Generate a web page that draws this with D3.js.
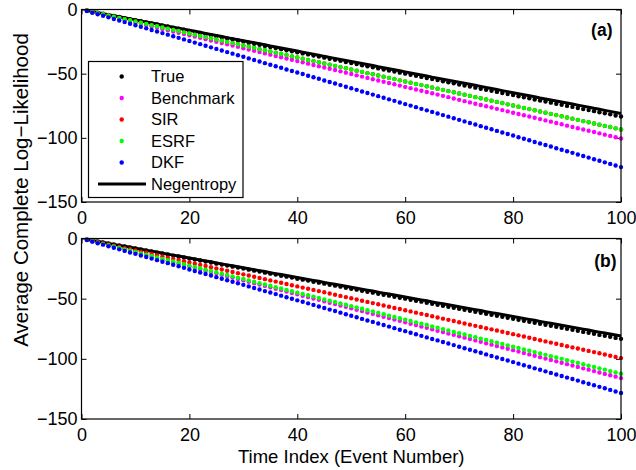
<!DOCTYPE html>
<html><head><meta charset="utf-8">
<script src="https://cdn.jsdelivr.net/npm/d3@7"></script>
<style>
html,body{margin:0;padding:0;background:#fff;}
svg{display:block;}
text{font-family:"Liberation Sans",Arial,Helvetica,sans-serif;fill:#000;}
</style></head>
<body>
<svg id="chart" width="636" height="470"></svg>
<script>
// ---------- data ----------
const timeIndex = d3.range(1, 101);
const xTicks = [0, 20, 40, 60, 80, 100];
const yTicks = [0, -50, -100, -150];
const seriesNames = ["True", "Benchmark", "SIR", "ESRF", "DKF"];
const seriesColors = ["#000000", "#ff00ff", "#ff0000", "#00ff00", "#0000ff"];
const panelLabels = ["(a)", "(b)"];

const negentropy = [-0.8,-1.6,-2.4,-3.2,-4.1,-4.9,-5.7,-6.5,-7.3,-8.1,-8.9,-9.7,-10.5,-11.3,-12.2,-13.0,-13.8,-14.6,-15.4,-16.2,-17.0,-17.8,-18.6,-19.4,-20.3,-21.1,-21.9,-22.7,-23.5,-24.3,-25.1,-25.9,-26.7,-27.5,-28.4,-29.2,-30.0,-30.8,-31.6,-32.4,-33.2,-34.0,-34.8,-35.6,-36.5,-37.3,-38.1,-38.9,-39.7,-40.5,-41.3,-42.1,-42.9,-43.7,-44.6,-45.4,-46.2,-47.0,-47.8,-48.6,-49.4,-50.2,-51.0,-51.8,-52.7,-53.5,-54.3,-55.1,-55.9,-56.7,-57.5,-58.3,-59.1,-59.9,-60.8,-61.6,-62.4,-63.2,-64.0,-64.8,-65.6,-66.4,-67.2,-68.0,-68.9,-69.7,-70.5,-71.3,-72.1,-72.9,-73.7,-74.5,-75.3,-76.1,-77.0,-77.8,-78.6,-79.4,-80.2,-81.0];

const trueLL = [-0.8,-1.7,-2.5,-3.3,-4.2,-5.0,-5.8,-6.7,-7.5,-8.3,-9.2,-10.0,-10.8,-11.7,-12.5,-13.3,-14.2,-15.0,-15.8,-16.7,-17.5,-18.3,-19.2,-20.0,-20.9,-21.7,-22.5,-23.4,-24.2,-25.0,-25.9,-26.7,-27.5,-28.4,-29.2,-30.0,-30.9,-31.7,-32.5,-33.4,-34.2,-35.0,-35.9,-36.7,-37.5,-38.4,-39.2,-40.0,-40.9,-41.7,-42.5,-43.4,-44.2,-45.0,-45.9,-46.7,-47.5,-48.4,-49.2,-50.0,-50.9,-51.7,-52.5,-53.4,-54.2,-55.0,-55.9,-56.7,-57.5,-58.4,-59.2,-60.0,-60.9,-61.7,-62.6,-63.4,-64.2,-65.1,-65.9,-66.7,-67.6,-68.4,-69.2,-70.1,-70.9,-71.7,-72.6,-73.4,-74.2,-75.1,-75.9,-76.7,-77.6,-78.4,-79.2,-80.1,-80.9,-81.7,-82.6,-83.4];

// panel (a)
const aBenchmark = [-1.0,-2.0,-3.0,-4.0,-5.0,-6.0,-7.0,-8.0,-9.0,-10.1,-11.1,-12.1,-13.1,-14.1,-15.1,-16.1,-17.1,-18.1,-19.1,-20.1,-21.1,-22.1,-23.1,-24.1,-25.1,-26.1,-27.1,-28.1,-29.1,-30.2,-31.2,-32.2,-33.2,-34.2,-35.2,-36.2,-37.2,-38.2,-39.2,-40.2,-41.2,-42.2,-43.2,-44.2,-45.2,-46.2,-47.2,-48.2,-49.2,-50.3,-51.3,-52.3,-53.3,-54.3,-55.3,-56.3,-57.3,-58.3,-59.3,-60.3,-61.3,-62.3,-63.3,-64.3,-65.3,-66.3,-67.3,-68.3,-69.3,-70.4,-71.4,-72.4,-73.4,-74.4,-75.4,-76.4,-77.4,-78.4,-79.4,-80.4,-81.4,-82.4,-83.4,-84.4,-85.4,-86.4,-87.4,-88.4,-89.4,-90.5,-91.5,-92.5,-93.5,-94.5,-95.5,-96.5,-97.5,-98.5,-99.5,-100.5];
const aSIR = [-0.9,-1.9,-2.8,-3.7,-4.7,-5.6,-6.5,-7.5,-8.4,-9.4,-10.3,-11.2,-12.2,-13.1,-14.0,-15.0,-15.9,-16.8,-17.8,-18.7,-19.6,-20.6,-21.5,-22.4,-23.4,-24.3,-25.2,-26.2,-27.1,-28.1,-29.0,-29.9,-30.9,-31.8,-32.7,-33.7,-34.6,-35.5,-36.5,-37.4,-38.3,-39.3,-40.2,-41.1,-42.1,-43.0,-43.9,-44.9,-45.8,-46.8,-47.7,-48.6,-49.6,-50.5,-51.4,-52.4,-53.3,-54.2,-55.2,-56.1,-57.0,-58.0,-58.9,-59.8,-60.8,-61.7,-62.6,-63.6,-64.5,-65.5,-66.4,-67.3,-68.3,-69.2,-70.1,-71.1,-72.0,-72.9,-73.9,-74.8,-75.7,-76.7,-77.6,-78.5,-79.5,-80.4,-81.3,-82.3,-83.2,-84.2,-85.1,-86.0,-87.0,-87.9,-88.8,-89.8,-90.7,-91.6,-92.6,-93.5];
const aESRF = [-0.9,-1.9,-2.8,-3.7,-4.7,-5.6,-6.5,-7.5,-8.4,-9.4,-10.3,-11.2,-12.2,-13.1,-14.0,-15.0,-15.9,-16.8,-17.8,-18.7,-19.6,-20.6,-21.5,-22.4,-23.4,-24.3,-25.2,-26.2,-27.1,-28.1,-29.0,-29.9,-30.9,-31.8,-32.7,-33.7,-34.6,-35.5,-36.5,-37.4,-38.3,-39.3,-40.2,-41.1,-42.1,-43.0,-43.9,-44.9,-45.8,-46.8,-47.7,-48.6,-49.6,-50.5,-51.4,-52.4,-53.3,-54.2,-55.2,-56.1,-57.0,-58.0,-58.9,-59.8,-60.8,-61.7,-62.6,-63.6,-64.5,-65.5,-66.4,-67.3,-68.3,-69.2,-70.1,-71.1,-72.0,-72.9,-73.9,-74.8,-75.7,-76.7,-77.6,-78.5,-79.5,-80.4,-81.3,-82.3,-83.2,-84.2,-85.1,-86.0,-87.0,-87.9,-88.8,-89.8,-90.7,-91.6,-92.6,-93.5];
const aDKF = [-1.2,-2.5,-3.7,-4.9,-6.1,-7.4,-8.6,-9.8,-11.1,-12.3,-13.5,-14.7,-16.0,-17.2,-18.4,-19.6,-20.9,-22.1,-23.3,-24.6,-25.8,-27.0,-28.2,-29.5,-30.7,-31.9,-33.2,-34.4,-35.6,-36.8,-38.1,-39.3,-40.5,-41.8,-43.0,-44.2,-45.4,-46.7,-47.9,-49.1,-50.3,-51.6,-52.8,-54.0,-55.3,-56.5,-57.7,-58.9,-60.2,-61.4,-62.6,-63.9,-65.1,-66.3,-67.5,-68.8,-70.0,-71.2,-72.5,-73.7,-74.9,-76.1,-77.4,-78.6,-79.8,-81.0,-82.3,-83.5,-84.7,-86.0,-87.2,-88.4,-89.6,-90.9,-92.1,-93.3,-94.6,-95.8,-97.0,-98.2,-99.5,-100.7,-101.9,-103.2,-104.4,-105.6,-106.8,-108.1,-109.3,-110.5,-111.7,-113.0,-114.2,-115.4,-116.7,-117.9,-119.1,-120.3,-121.6,-122.8];

// panel (b)
const bBenchmark = [-1.2,-2.3,-3.5,-4.6,-5.8,-7.0,-8.1,-9.3,-10.4,-11.6,-12.8,-13.9,-15.1,-16.2,-17.4,-18.6,-19.7,-20.9,-22.0,-23.2,-24.4,-25.5,-26.7,-27.8,-29.0,-30.2,-31.3,-32.5,-33.6,-34.8,-36.0,-37.1,-38.3,-39.4,-40.6,-41.8,-42.9,-44.1,-45.2,-46.4,-47.6,-48.7,-49.9,-51.0,-52.2,-53.4,-54.5,-55.7,-56.8,-58.0,-59.2,-60.3,-61.5,-62.6,-63.8,-65.0,-66.1,-67.3,-68.4,-69.6,-70.8,-71.9,-73.1,-74.2,-75.4,-76.6,-77.7,-78.9,-80.0,-81.2,-82.4,-83.5,-84.7,-85.8,-87.0,-88.2,-89.3,-90.5,-91.6,-92.8,-94.0,-95.1,-96.3,-97.4,-98.6,-99.8,-100.9,-102.1,-103.2,-104.4,-105.6,-106.7,-107.9,-109.0,-110.2,-111.4,-112.5,-113.7,-114.8,-116.0];
const bSIR = [-1.0,-2.0,-3.0,-4.0,-5.0,-6.0,-7.0,-8.0,-8.9,-9.9,-10.9,-11.9,-12.9,-13.9,-14.9,-15.9,-16.9,-17.9,-18.9,-19.9,-20.9,-21.9,-22.9,-23.9,-24.9,-25.8,-26.8,-27.8,-28.8,-29.8,-30.8,-31.8,-32.8,-33.8,-34.8,-35.8,-36.8,-37.8,-38.8,-39.8,-40.8,-41.7,-42.7,-43.7,-44.7,-45.7,-46.7,-47.7,-48.7,-49.7,-50.7,-51.7,-52.7,-53.7,-54.7,-55.7,-56.7,-57.7,-58.6,-59.6,-60.6,-61.6,-62.6,-63.6,-64.6,-65.6,-66.6,-67.6,-68.6,-69.6,-70.6,-71.6,-72.6,-73.6,-74.6,-75.5,-76.5,-77.5,-78.5,-79.5,-80.5,-81.5,-82.5,-83.5,-84.5,-85.5,-86.5,-87.5,-88.5,-89.5,-90.5,-91.4,-92.4,-93.4,-94.4,-95.4,-96.4,-97.4,-98.4,-99.4];
const bESRF = [-1.1,-2.2,-3.4,-4.5,-5.6,-6.7,-7.9,-9.0,-10.1,-11.2,-12.4,-13.5,-14.6,-15.7,-16.9,-18.0,-19.1,-20.2,-21.4,-22.5,-23.6,-24.7,-25.9,-27.0,-28.1,-29.2,-30.3,-31.5,-32.6,-33.7,-34.8,-36.0,-37.1,-38.2,-39.3,-40.5,-41.6,-42.7,-43.8,-45.0,-46.1,-47.2,-48.3,-49.5,-50.6,-51.7,-52.8,-54.0,-55.1,-56.2,-57.3,-58.4,-59.6,-60.7,-61.8,-62.9,-64.1,-65.2,-66.3,-67.4,-68.6,-69.7,-70.8,-71.9,-73.1,-74.2,-75.3,-76.4,-77.6,-78.7,-79.8,-80.9,-82.1,-83.2,-84.3,-85.4,-86.5,-87.7,-88.8,-89.9,-91.0,-92.2,-93.3,-94.4,-95.5,-96.7,-97.8,-98.9,-100.0,-101.2,-102.3,-103.4,-104.5,-105.7,-106.8,-107.9,-109.0,-110.2,-111.3,-112.4];
const bDKF = [-1.3,-2.6,-3.9,-5.1,-6.4,-7.7,-9.0,-10.3,-11.6,-12.8,-14.1,-15.4,-16.7,-18.0,-19.3,-20.5,-21.8,-23.1,-24.4,-25.7,-27.0,-28.2,-29.5,-30.8,-32.1,-33.4,-34.7,-36.0,-37.2,-38.5,-39.8,-41.1,-42.4,-43.7,-44.9,-46.2,-47.5,-48.8,-50.1,-51.4,-52.6,-53.9,-55.2,-56.5,-57.8,-59.1,-60.3,-61.6,-62.9,-64.2,-65.5,-66.8,-68.1,-69.3,-70.6,-71.9,-73.2,-74.5,-75.8,-77.0,-78.3,-79.6,-80.9,-82.2,-83.5,-84.7,-86.0,-87.3,-88.6,-89.9,-91.2,-92.4,-93.7,-95.0,-96.3,-97.6,-98.9,-100.2,-101.4,-102.7,-104.0,-105.3,-106.6,-107.9,-109.1,-110.4,-111.7,-113.0,-114.3,-115.6,-116.8,-118.1,-119.4,-120.7,-122.0,-123.3,-124.5,-125.8,-127.1,-128.4];

const panels = [
  {label: panelLabels[0], series: [trueLL, aBenchmark, aSIR, aESRF, aDKF], top: 9.5, bottom: 202, legend: true, labelX: 612.5, labelY: 35.5},
  {label: panelLabels[1], series: [trueLL, bBenchmark, bSIR, bESRF, bDKF], top: 238.5, bottom: 419, legend: false, labelX: 616.5, labelY: 267}
];

// ---------- drawing ----------
const svg = d3.select("#chart");
const left = 81.5, right = 621;
const x = d3.scaleLinear().domain([0, 100]).range([left, right]);

panels.forEach(p => {
  const y = d3.scaleLinear().domain([-150, 0]).range([p.bottom, p.top]);
  const g = svg.append("g");

  // axes (ticks inside, MATLAB box)
  const ax = [
    d3.axisBottom(x).tickValues(xTicks).tickSize(-5).tickSizeOuter(0).tickPadding(9),
    d3.axisTop(x).tickValues(xTicks).tickSize(-5).tickSizeOuter(0).tickFormat(""),
    d3.axisLeft(y).tickValues(yTicks).tickSize(-5).tickSizeOuter(0).tickPadding(4),
    d3.axisRight(y).tickValues(yTicks).tickSize(-5).tickSizeOuter(0).tickFormat("")
  ];
  const trans = [`translate(0,${p.bottom})`, `translate(0,${p.top})`, `translate(${left},0)`, `translate(${right},0)`];
  ax.forEach((a, i) => {
    const ag = g.append("g").attr("transform", trans[i]).call(a);
    ag.select(".domain").remove();
    ag.selectAll(".tick line").attr("stroke", "#000").attr("stroke-width", 1);
    ag.selectAll("text").attr("font-size", 18).attr("font-family", "Liberation Sans, Arial, sans-serif").attr("fill", "#000");
  });

  // data
  const clipId = "clip" + p.label.replace(/\W/g, "");
  svg.append("clipPath").attr("id", clipId).append("rect")
    .attr("x", left - 4).attr("y", p.top - 4).attr("width", right - left + 8).attr("height", p.bottom - p.top + 8);
  const dg = g.append("g").attr("clip-path", `url(#${clipId})`);

  p.series.forEach((vals, si) => {
    dg.append("g").selectAll("circle").data(vals).join("circle")
      .attr("cx", (d, i) => x(timeIndex[i]))
      .attr("cy", d => y(d))
      .attr("r", 2.2)
      .attr("fill", seriesColors[si]);
    if (si === 0) {
      dg.append("path").datum(negentropy)
        .attr("fill", "none").attr("stroke", "#000").attr("stroke-width", 3)
        .attr("d", d3.line().x((d, i) => x(timeIndex[i])).y(d => y(d)));
    }
  });

  // box
  g.append("rect").attr("x", left).attr("y", p.top).attr("width", right - left).attr("height", p.bottom - p.top)
    .attr("fill", "none").attr("stroke", "#000").attr("stroke-width", 1.2);

  g.append("text").attr("x", p.labelX).attr("y", p.labelY).attr("text-anchor", "end")
    .attr("font-size", 17.5).attr("font-weight", "bold").text(p.label);

  if (p.legend) {
    const lg = g.append("g");
    lg.append("rect").attr("x", 88.5).attr("y", 61.5).attr("width", 154.5).attr("height", 136)
      .attr("fill", "#fff").attr("stroke", "#000").attr("stroke-width", 1.2);
    const rowY = d3.scaleLinear().domain([0, 5]).range([76.5, 184]);
    seriesNames.forEach((name, i) => {
      lg.append("circle").attr("cx", 121.7).attr("cy", rowY(i)).attr("r", 2.2).attr("fill", seriesColors[i]);
      lg.append("text").attr("x", 151).attr("y", rowY(i) + 5.8).attr("font-size", 16.5).text(name);
    });
    lg.append("line").attr("x1", 98).attr("x2", 146).attr("y1", rowY(5)).attr("y2", rowY(5))
      .attr("stroke", "#000").attr("stroke-width", 3);
    lg.append("text").attr("x", 151).attr("y", rowY(5) + 5.8).attr("font-size", 16.5).text("Negentropy");
  }
});

// axis titles
svg.append("text").attr("x", (left + right) / 2).attr("y", 463).attr("text-anchor", "middle")
  .attr("font-size", 18.5).text("Time Index (Event Number)");
svg.append("text").attr("transform", "translate(28,190) rotate(-90)").attr("text-anchor", "middle")
  .attr("font-size", 20.5).text("Average Complete Log\u2212Likelihood");
</script>
</body></html>
